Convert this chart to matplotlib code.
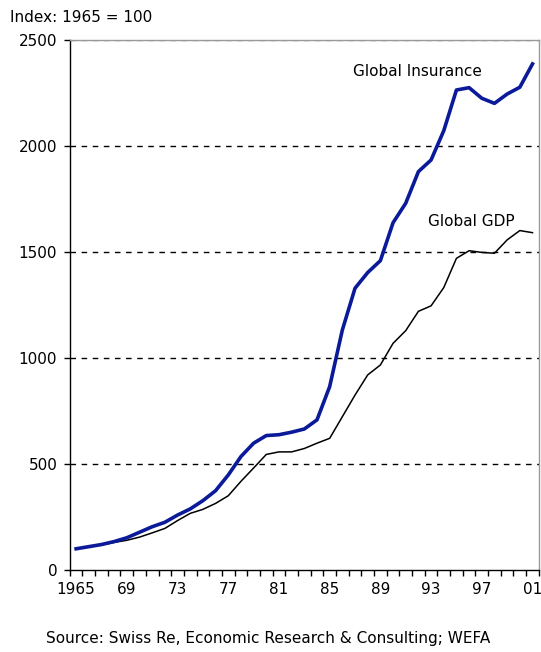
import matplotlib
matplotlib.use('Agg')
from matplotlib import pyplot as plt
import numpy as np

years = list(range(1965, 2002))
insurance = [100, 110, 120, 134, 152, 178, 204, 225, 259, 288, 327, 374, 448, 535, 598,
             634, 638, 650, 665, 708, 865, 1132, 1329, 1403, 1459, 1638, 1730, 1879, 1934,
             2072, 2264, 2275, 2225, 2201, 2245, 2277, 2387]
gdp = [100, 110, 118, 130, 140, 155, 175, 196, 233, 267, 286, 314, 350, 418, 481,
       545, 557, 557, 573, 598, 621, 723, 825, 920, 967, 1069, 1129, 1220, 1246,
       1332, 1470, 1506, 1498, 1494, 1557, 1601, 1591]
label_years = list(range(1965, 2002, 4))
label_text = ['1965'] + ['%02d' % (y % 100) for y in label_years[1:]]

plt.rcParams['font.family'] = 'DejaVu Sans'
font_size = 11

fig = plt.figure(figsize=(5.41, 6.52), dpi=100)
ax = fig.add_axes([0.129, 0.1258, 0.867, 0.8129])

for v in [500, 1000, 1500, 2000, 2500]:
	ax.axhline(v, color='k' if v < 2500 else '0.5', linewidth=1, linestyle=(0, (4, 4)), zorder=1)

ax.plot(years, gdp, color='k', linewidth=1.1, zorder=3)
ax.plot(years, insurance, color='#0a1a99', linewidth=2.6, zorder=4)

ax.set_xlim(1964.5, 2001.5)
ax.set_ylim(0, 2500)
ax.set_yticks([0, 500, 1000, 1500, 2000, 2500])
ax.set_xticks(label_years)
ax.set_xticklabels(label_text)
ax.set_xticks(np.arange(1964.5, 2002, 1), minor=True)
ax.tick_params(axis='x', which='major', length=0, pad=9, labelsize=font_size)
ax.tick_params(axis='x', which='minor', length=4, width=1, direction='out')
ax.tick_params(axis='y', length=4, width=1, labelsize=font_size, pad=5)

for s in ['left', 'bottom']:
	ax.spines[s].set_color('k')
	ax.spines[s].set_linewidth(1)
for s in ['top', 'right']:
	ax.spines[s].set_color('0.6')
	ax.spines[s].set_linewidth(1)

ax.text(1991.9, 2349, 'Global Insurance', fontsize=font_size, ha='center', va='center')
ax.text(1996.2, 1646, 'Global GDP', fontsize=font_size, ha='center', va='center')

fig.text(10 / 541, 1 - 17 / 652, 'Index: 1965 = 100', fontsize=font_size, ha='left', va='center')
fig.text(268 / 541, 1 - 638 / 652, 'Source: Swiss Re, Economic Research & Consulting; WEFA',
	fontsize=font_size, ha='center', va='center')

fig.savefig('out.png', dpi=100)
